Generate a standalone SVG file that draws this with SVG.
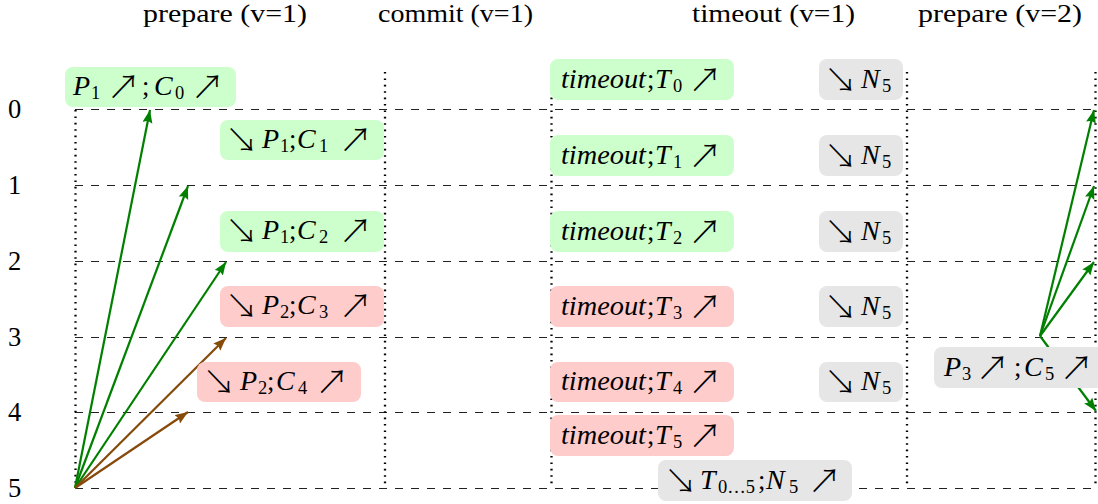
<svg xmlns="http://www.w3.org/2000/svg" width="1098" height="504" viewBox="0 0 1098 504">
<style>
.hd{font-family:"Liberation Serif",serif;font-size:26px;fill:#000}
.m{font-family:"Liberation Serif",serif;font-style:italic;font-size:28px;fill:#000}
.tm{font-family:"Liberation Serif",serif;font-style:italic;font-size:27px;fill:#000}
.r{font-family:"Liberation Serif",serif;font-size:26.5px;fill:#000}
.s{font-family:"Liberation Serif",serif;font-size:18.5px;fill:#000}
.ar{font-family:"Noto Sans CJK SC","DejaVu Sans",sans-serif;font-weight:300;font-size:33px;fill:#000;text-anchor:middle}
.dash{stroke:#222;stroke-width:1.2;stroke-dasharray:8 8;fill:none}
.dot{stroke:#000;stroke-width:2.3;stroke-dasharray:1.6 4.8;fill:none}
.g{stroke:#008000;stroke-width:2.2;fill:none}
.b{stroke:#864a0a;stroke-width:2.2;fill:none}
.gb{fill:#ccffcc}.rb{fill:#ffcccc}.yb{fill:#e6e6e6}
</style>
<defs>
<marker id="ag" markerUnits="userSpaceOnUse" markerWidth="14" markerHeight="11" refX="13" refY="5" orient="auto"><path d="M0,0 L13,5 L0,10 L2,5 Z" fill="#008000"/></marker>
<marker id="ab" markerUnits="userSpaceOnUse" markerWidth="14" markerHeight="11" refX="13" refY="5" orient="auto"><path d="M0,0 L13,5 L0,10 L2,5 Z" fill="#864a0a"/></marker>
</defs>
<g id="headers">
<text class="hd" x="143" y="22" textLength="164" lengthAdjust="spacingAndGlyphs">prepare (v=1)</text>
<text class="hd" x="378" y="22" textLength="155" lengthAdjust="spacingAndGlyphs">commit (v=1)</text>
<text class="hd" x="692" y="22" textLength="163" lengthAdjust="spacingAndGlyphs">timeout (v=1)</text>
<text class="hd" x="918" y="22" textLength="164" lengthAdjust="spacingAndGlyphs">prepare (v=2)</text>
</g>
<g id="rows">
<text class="r" x="8" y="118">0</text>
<text class="r" x="8" y="194">1</text>
<text class="r" x="8" y="270">2</text>
<text class="r" x="8" y="346">3</text>
<text class="r" x="8" y="421">4</text>
<text class="r" x="8" y="497">5</text>
</g>
<g id="grid">
<line class="dash" x1="75" y1="109.5" x2="1098" y2="109.5"/>
<line class="dash" x1="75" y1="185.5" x2="1098" y2="185.5"/>
<line class="dash" x1="75" y1="261.5" x2="1098" y2="261.5"/>
<line class="dash" x1="75" y1="337.5" x2="1098" y2="337.5"/>
<line class="dash" x1="75" y1="412.5" x2="1098" y2="412.5"/>
<line class="dash" x1="75" y1="488.5" x2="1098" y2="488.5"/>
<line class="dot" x1="75.5" y1="110" x2="75.5" y2="488"/>
<line class="dot" x1="385" y1="72" x2="385" y2="488"/>
<line class="dot" x1="551.5" y1="72" x2="551.5" y2="488"/>
<line class="dot" x1="907" y1="72" x2="907" y2="488"/>
<line class="dot" x1="1095.5" y1="72" x2="1095.5" y2="488"/>
</g>
<g id="connectors">
<line class="g" x1="75" y1="488" x2="150" y2="110" marker-end="url(#ag)"/>
<line class="g" x1="75" y1="488" x2="188" y2="186" marker-end="url(#ag)"/>
<line class="g" x1="75" y1="488" x2="226" y2="262" marker-end="url(#ag)"/>
<line class="b" x1="75" y1="488" x2="226" y2="338" marker-end="url(#ab)"/>
<line class="b" x1="75" y1="488" x2="188" y2="412" marker-end="url(#ab)"/>
<line class="g" x1="1040" y1="336" x2="1094" y2="110" marker-end="url(#ag)"/>
<line class="g" x1="1040" y1="336" x2="1094" y2="186" marker-end="url(#ag)"/>
<line class="g" x1="1040" y1="336" x2="1094" y2="262" marker-end="url(#ag)"/>
<line class="g" x1="1040" y1="336" x2="1096" y2="411" marker-end="url(#ag)"/>
</g>
<g id="n1"><rect class="gb" x="65" y="67" width="171" height="40" rx="8"/>
<text class="m" x="73" y="95">P</text><text class="s" x="91" y="99">1</text><text class="ar" x="123.5" y="99">↗</text><text class="r" x="142" y="95">;</text><text class="m" x="154" y="95">C</text><text class="s" x="175" y="99">0</text><text class="ar" x="207.5" y="99">↗</text></g>
<g id="n2"><rect class="gb" x="220" y="120" width="164" height="40" rx="8"/>
<text class="ar" x="241.5" y="152">↘</text><text class="m" x="262" y="148">P</text><text class="s" x="280" y="152">1</text><text class="r" x="289" y="148">;</text><text class="m" x="297" y="148">C</text><text class="s" x="319" y="152">1</text><text class="ar" x="355.5" y="152">↗</text></g>
<g id="n3"><rect class="gb" x="220" y="211" width="164" height="41" rx="8"/>
<text class="ar" x="241.5" y="243">↘</text><text class="m" x="262" y="239">P</text><text class="s" x="280" y="243">1</text><text class="r" x="289" y="239">;</text><text class="m" x="297" y="239">C</text><text class="s" x="319" y="243">2</text><text class="ar" x="355.5" y="243">↗</text></g>
<g id="n4"><rect class="rb" x="220" y="286" width="164" height="41" rx="8"/>
<text class="ar" x="241.5" y="318">↘</text><text class="m" x="262" y="314">P</text><text class="s" x="280" y="318">2</text><text class="r" x="289" y="314">;</text><text class="m" x="297" y="314">C</text><text class="s" x="319" y="318">3</text><text class="ar" x="355.5" y="318">↗</text></g>
<g id="n5"><rect class="rb" x="197" y="362" width="164" height="40" rx="8"/>
<text class="ar" x="219" y="394">↘</text><text class="m" x="240" y="390">P</text><text class="s" x="258" y="394">2</text><text class="r" x="267" y="390">;</text><text class="m" x="276" y="390">C</text><text class="s" x="298" y="394">4</text><text class="ar" x="332" y="394">↗</text></g>
<g id="t0"><rect class="gb" x="550" y="59" width="184" height="41" rx="8"/>
<text class="tm" x="561" y="88" textLength="85" lengthAdjust="spacingAndGlyphs">timeout</text><text class="r" x="647" y="88">;</text><text class="m" x="655" y="88">T</text><text class="s" x="673" y="92">0</text><text class="ar" x="705" y="92">↗</text></g>
<g id="t1"><rect class="gb" x="550" y="135" width="184" height="41" rx="8"/>
<text class="tm" x="561" y="164" textLength="85" lengthAdjust="spacingAndGlyphs">timeout</text><text class="r" x="647" y="164">;</text><text class="m" x="655" y="164">T</text><text class="s" x="673" y="168">1</text><text class="ar" x="705" y="168">↗</text></g>
<g id="t2"><rect class="gb" x="550" y="211" width="184" height="41" rx="8"/>
<text class="tm" x="561" y="240" textLength="85" lengthAdjust="spacingAndGlyphs">timeout</text><text class="r" x="647" y="240">;</text><text class="m" x="655" y="240">T</text><text class="s" x="673" y="244">2</text><text class="ar" x="705" y="244">↗</text></g>
<g id="t3"><rect class="rb" x="550" y="286" width="184" height="41" rx="8"/>
<text class="tm" x="561" y="315" textLength="85" lengthAdjust="spacingAndGlyphs">timeout</text><text class="r" x="647" y="315">;</text><text class="m" x="655" y="315">T</text><text class="s" x="673" y="319">3</text><text class="ar" x="705" y="319">↗</text></g>
<g id="t4"><rect class="rb" x="550" y="362" width="184" height="40" rx="8"/>
<text class="tm" x="561" y="390" textLength="85" lengthAdjust="spacingAndGlyphs">timeout</text><text class="r" x="647" y="390">;</text><text class="m" x="655" y="390">T</text><text class="s" x="673" y="394">4</text><text class="ar" x="705" y="394">↗</text></g>
<g id="t5"><rect class="rb" x="550" y="415" width="184" height="41" rx="8"/>
<text class="tm" x="561" y="444" textLength="85" lengthAdjust="spacingAndGlyphs">timeout</text><text class="r" x="647" y="444">;</text><text class="m" x="655" y="444">T</text><text class="s" x="673" y="448">5</text><text class="ar" x="705" y="448">↗</text></g>
<g id="nv0"><rect class="yb" x="819" y="59" width="84" height="41" rx="8"/>
<text class="ar" x="840.5" y="92">↘</text><text class="m" x="861" y="88">N</text><text class="s" x="882" y="92">5</text></g>
<g id="nv1"><rect class="yb" x="819" y="135" width="84" height="41" rx="8"/>
<text class="ar" x="840.5" y="168">↘</text><text class="m" x="861" y="164">N</text><text class="s" x="882" y="168">5</text></g>
<g id="nv2"><rect class="yb" x="819" y="211" width="84" height="41" rx="8"/>
<text class="ar" x="840.5" y="244">↘</text><text class="m" x="861" y="240">N</text><text class="s" x="882" y="244">5</text></g>
<g id="nv3"><rect class="yb" x="819" y="286" width="84" height="41" rx="8"/>
<text class="ar" x="840.5" y="319">↘</text><text class="m" x="861" y="315">N</text><text class="s" x="882" y="319">5</text></g>
<g id="nv4"><rect class="yb" x="819" y="362" width="84" height="40" rx="8"/>
<text class="ar" x="840.5" y="394">↘</text><text class="m" x="861" y="390">N</text><text class="s" x="882" y="394">5</text></g>
<g id="agg"><rect class="yb" x="658" y="460" width="194" height="41" rx="8"/>
<text class="ar" x="680.5" y="493">↘</text><text class="m" x="700" y="489">T</text><text class="s" x="718" y="493" textLength="37" lengthAdjust="spacingAndGlyphs">0…5</text><text class="r" x="758" y="489">;</text><text class="m" x="766" y="489">N</text><text class="s" x="789" y="493">5</text><text class="ar" x="824.5" y="493">↗</text></g>
<g id="p3"><rect class="yb" x="934" y="347" width="180" height="41" rx="8"/>
<text class="m" x="944" y="376">P</text><text class="s" x="962" y="380">3</text><text class="ar" x="992.5" y="380">↗</text><text class="r" x="1014" y="376">;</text><text class="m" x="1024" y="376">C</text><text class="s" x="1045" y="380">5</text><text class="ar" x="1076.5" y="380">↗</text></g>
</svg>
